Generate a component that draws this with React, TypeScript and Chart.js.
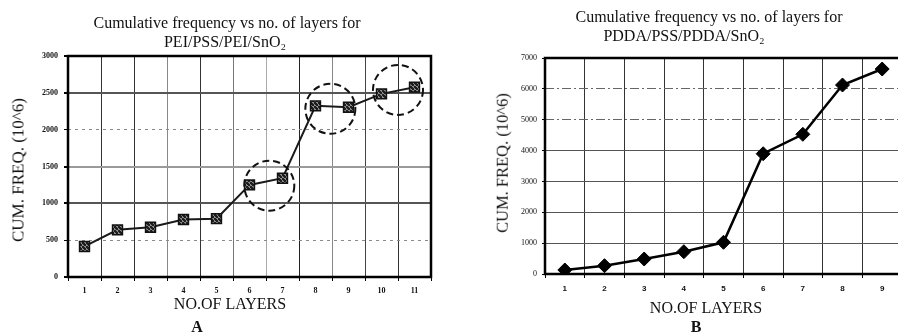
import React, { useEffect, useRef } from "react";
import { Chart, registerables } from "chart.js";

Chart.register(...registerables);

// ---------- Data ----------
const layersA = ["1", "2", "3", "4", "5", "6", "7", "8", "9", "10", "11"];
const freqA = [415, 640, 676, 780, 792, 1250, 1341, 2323, 2305, 2486, 2577];
const yMaxA = 3000;
const yStepA = 500;
// dashed circles: x = category index (fractional), y = value
const circleIdxA = [5.6, 7.45, 9.5];
const circleValA = [1240, 2283, 2540];

const layersB = ["1", "2", "3", "4", "5", "6", "7", "8", "9"];
const freqB = [130, 270, 486, 723, 1027, 3898, 4527, 6124, 6643];
const yMaxB = 7000;
const yStepB = 1000;

const titleA = ["Cumulative frequency vs no. of layers for", "PEI/PSS/PEI/SnO\u2082"];
const titleB = ["Cumulative frequency vs no. of layers for", "PDDA/PSS/PDDA/SnO\u2082"];
const yTitle = "CUM. FREQ. (10^6)";
const xTitle = "NO.OF LAYERS";

// ---------- Plugins ----------
const framePlugin = {
  id: "frame",
  beforeDatasetsDraw(chart: any, _args: any, opts: any) {
    const { ctx, chartArea: a } = chart;
    ctx.save();
    ctx.strokeStyle = "#000";
    ctx.lineWidth = opts.width || 2.5;
    ctx.strokeRect(a.left, a.top, a.right - a.left, a.bottom - a.top);
    ctx.restore();
  },
};

const circlesPlugin = {
  id: "dashedCircles",
  afterDatasetsDraw(chart: any, _args: any, opts: any) {
    const idx: number[] = opts.idx || [];
    const vals: number[] = opts.vals || [];
    const { ctx, scales } = chart;
    ctx.save();
    ctx.setLineDash([7, 4]);
    ctx.lineWidth = 2;
    ctx.strokeStyle = "#111";
    for (let i = 0; i < idx.length; i++) {
      const cx = scales.x.getPixelForValue(idx[i]);
      const cy = scales.y.getPixelForValue(vals[i]);
      ctx.beginPath();
      ctx.arc(cx, cy, opts.radius || 25, 0, Math.PI * 2);
      ctx.stroke();
    }
    ctx.restore();
  },
};

function makePattern(): CanvasPattern | string {
  const c = document.createElement("canvas");
  c.width = 4;
  c.height = 4;
  const g = c.getContext("2d");
  if (!g) return "#555";
  g.fillStyle = "#8a8a8a";
  g.fillRect(0, 0, 4, 4);
  g.fillStyle = "#1e1e1e";
  g.fillRect(0, 0, 2, 2);
  g.fillRect(2, 2, 2, 2);
  g.fillRect(3, 0, 1, 1);
  g.fillRect(0, 3, 1, 1);
  return g.createPattern(c, "repeat") || "#555";
}

const xGridA = ["rgba(0,0,0,0)", "#333", "#333", "#888", "#333", "#777", "#aaa", "#222", "#888", "#444", "#333", "rgba(0,0,0,0)"];

const plainTick = (v: any) => String(v);

function chartAConfig(): any {
  const pattern = makePattern();
  return {
    type: "line",
    data: {
      labels: layersA,
      datasets: [
        {
          data: freqA,
          borderColor: "#1a1a1a",
          borderWidth: 2,
          pointStyle: "rect",
          pointRadius: 7,
          pointBackgroundColor: pattern,
          pointBorderColor: "#111",
          pointBorderWidth: 1.5,
          tension: 0,
        },
      ],
    },
    options: {
      responsive: false,
      animation: false,
      devicePixelRatio: 1,
      layout: { padding: { left: 28, top: 56, right: 18, bottom: 37 } },
      plugins: {
        legend: { display: false },
        tooltip: { enabled: false },
        frame: { width: 2.5 },
        dashedCircles: { idx: circleIdxA, vals: circleValA, radius: 25 },
      },
      scales: {
        x: {
          type: "category",
          offset: true,
          afterFit: (s: any) => { s.height = 20; },
          border: { display: false },
          grid: {
            offset: true,
            color: (c: any) => xGridA[c.index] ?? "#333",
            lineWidth: 1,
            tickLength: 4,
            tickColor: "#000",
          },
          ticks: {
            padding: 5,
            color: "#111",
            font: { family: "Liberation Serif", size: 8, weight: "bold" },
            maxRotation: 0,
          },
        },
        y: {
          min: 0,
          max: yMaxA,
          afterFit: (s: any) => { s.width = 40; },
          border: {
            display: false,
            dash: (c: any) => (c.tick && (c.tick.value === 500 || c.tick.value === 2000) ? [3, 4] : []),
          },
          grid: {
            color: (c: any) => {
              const v = c.tick ? c.tick.value : -1;
              if (v === 0 || v === yMaxA) return "rgba(0,0,0,0)";
              if (v === 500 || v === 2000) return "#8a8a8a";
              if (v === 1500) return "#9a9a9a";
              return "#555";
            },
            lineWidth: (c: any) => {
              const v = c.tick ? c.tick.value : -1;
              if (v === 500 || v === 2000) return 1;
              return 2;
            },
            tickLength: 4,
            tickColor: "#000",
          },
          ticks: {
            stepSize: yStepA,
            padding: 6,
            color: "#111",
            callback: plainTick,
            font: { family: "Liberation Serif", size: 8, weight: "bold" },
          },
        },
      },
    },
    plugins: [framePlugin, circlesPlugin],
  };
}

function chartBConfig(): any {
  return {
    type: "line",
    data: {
      labels: layersB,
      datasets: [
        {
          data: freqB,
          borderColor: "#000",
          borderWidth: 2.5,
          pointStyle: "rectRot",
          pointRadius: 7,
          pointBackgroundColor: "#000",
          pointBorderColor: "#000",
          pointBorderWidth: 1,
          tension: 0,
        },
      ],
    },
    options: {
      responsive: false,
      animation: false,
      devicePixelRatio: 1,
      layout: { padding: { left: 57, top: 58, right: 7, bottom: 40 } },
      plugins: {
        legend: { display: false },
        tooltip: { enabled: false },
        frame: { width: 2.5 },
      },
      scales: {
        x: {
          type: "category",
          offset: true,
          afterFit: (s: any) => { s.height = 20; },
          border: { display: false },
          grid: {
            offset: true,
            color: (c: any) => (c.index === 0 || c.index === layersB.length ? "rgba(0,0,0,0)" : "#333"),
            lineWidth: 1,
            tickLength: 4,
            tickColor: "#000",
          },
          ticks: {
            padding: 6,
            color: "#111",
            font: { family: "Liberation Sans", size: 8, weight: "bold" },
            maxRotation: 0,
          },
        },
        y: {
          min: 0,
          max: yMaxB,
          afterFit: (s: any) => { s.width = 40; },
          border: {
            display: false,
            dash: (c: any) => (c.tick && (c.tick.value === 5000 || c.tick.value === 6000) ? [9, 3, 2, 3] : []),
          },
          grid: {
            color: (c: any) => {
              const v = c.tick ? c.tick.value : -1;
              if (v === 0 || v === yMaxB) return "rgba(0,0,0,0)";
              if (v === 5000 || v === 6000) return "#666";
              return "#555";
            },
            lineWidth: 1,
            tickLength: 3,
            tickColor: "#000",
          },
          ticks: {
            stepSize: yStepB,
            padding: 5,
            color: "#111",
            callback: plainTick,
            font: { family: "Liberation Serif", size: 8 },
          },
        },
      },
    },
    plugins: [framePlugin],
  };
}

function ChartCanvas(props: { make: () => any; left: number; width: number; height: number }) {
  const ref = useRef<HTMLCanvasElement | null>(null);
  useEffect(() => {
    if (!ref.current) return;
    const chart = new Chart(ref.current, props.make());
    return () => chart.destroy();
  }, []);
  return (
    <canvas
      ref={ref}
      width={props.width}
      height={props.height}
      style={{ position: "absolute", left: props.left, top: 0, width: props.width, height: props.height }}
    />
  );
}

const serif = "'Liberation Serif', 'Times New Roman', serif";

function Text(props: { x: number; y: number; size: number; text: string; bold?: boolean; rotate?: boolean }) {
  return (
    <div
      style={{
        position: "absolute",
        left: props.x,
        top: props.y,
        transform: `translate(-50%, -50%)${props.rotate ? " rotate(-90deg)" : ""}`,
        whiteSpace: "nowrap",
        fontFamily: serif,
        fontSize: props.size,
        fontWeight: props.bold ? "bold" : "normal",
        color: "#111",
        lineHeight: 1,
      }}
    >
      {props.text}
    </div>
  );
}

export default function App() {
  return (
    <div
      style={{
        position: "fixed",
        left: 0,
        top: 0,
        width: 898,
        height: 334,
        overflow: "hidden",
        background: "#fff",
      }}
    >
      <ChartCanvas make={chartAConfig} left={0} width={449} height={334} />
      <ChartCanvas make={chartBConfig} left={448} width={462} height={334} />

      <Text x={227} y={23} size={16} text={titleA[0]} />
      <Text x={225} y={42} size={16} text={titleA[1]} />
      <Text x={709} y={17} size={16} text={titleB[0]} />
      <Text x={684} y={36} size={16} text={titleB[1]} />

      <Text x={18} y={170} size={17} text={yTitle} rotate />
      <Text x={503} y={163} size={16.5} text={yTitle} rotate />

      <Text x={230} y={304} size={16} text={xTitle} />
      <Text x={706} y={308} size={16} text={xTitle} />

      <Text x={197} y={327} size={16} text="A" bold />
      <Text x={696} y={327} size={16} text="B" bold />
    </div>
  );
}
